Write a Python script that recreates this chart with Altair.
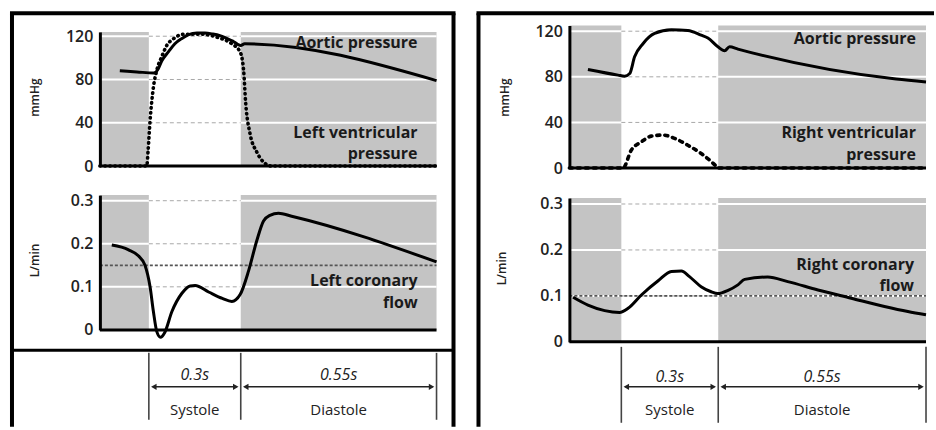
import altair as alt
import pandas as pd

# ---------------- data ----------------
PHASE_EDGES = [-0.14, 0.0, 0.30, 0.85]      # end of previous diastole | systole | diastole
SHADE_START = [-0.14, 0.30]
SHADE_END = [0.0, 0.85]
PHASE_START = [0.0, 0.30]
PHASE_END = [0.30, 0.85]
PHASE_DURATION = ["0.3s", "0.55s"]
PHASE_NAME = ["Systole", "Diastole"]
PHASE_MARKS = [0.0, 0.30, 0.85]

PRESSURE_TICKS = [0, 40, 80, 120]
FLOW_TICKS = [0, 0.1, 0.2, 0.3]

# left heart: aortic pressure (mmHg)
LA_T = [-0.083, -0.034, 0.016, 0.029, 0.042, 0.065, 0.085, 0.108, 0.130, 0.157,
        0.183, 0.209, 0.232, 0.254, 0.274, 0.290, 0.300, 0.311, 0.85]
LA_P = [88, 87, 86, 89, 97, 106, 113, 118, 121.5, 123,
        123, 122, 120.5, 118, 115.5, 112.5, 111.5, 113, 79]
# left ventricular pressure (mmHg)
LV_T = [-0.14, -0.006, -0.002, 0.004, 0.015, 0.026, 0.042, 0.059, 0.081, 0.113, 0.173,
        0.227, 0.271, 0.298, 0.308, 0.314, 0.326, 0.345, 0.368, 0.387, 0.85]
LV_P = [0, 0, 15, 42, 73, 88.6, 101, 111.7, 117.8, 121.8, 121.8,
        118.7, 113, 105.5, 88.6, 57.8, 30, 13, 2.5, 0, 0]
# left coronary flow (L/min)
LF_T = [-0.106, -0.058, -0.030, -0.011, 0.004, 0.015, 0.026, 0.038, 0.052, 0.075, 0.108,
        0.135, 0.151, 0.195, 0.240, 0.271, 0.298, 0.322, 0.345, 0.364, 0.382, 0.406, 0.443, 0.85]
LF_F = [0.197, 0.186, 0.172, 0.150, 0.100, 0.042, -0.004, -0.017, -0.006, 0.042, 0.085,
        0.102, 0.103, 0.088, 0.073, 0.066, 0.082, 0.137, 0.207, 0.253, 0.266, 0.271, 0.264, 0.158]
LEFT_MEAN_FLOW = 0.15

# right heart: aortic pressure (mmHg)
RA_T = [-0.090, -0.009, 0.010, 0.026, 0.041, 0.067, 0.103, 0.155, 0.206, 0.247,
        0.268, 0.299, 0.317, 0.330, 0.352, 0.771, 0.85]
RA_P = [86.4, 81.5, 80.6, 82.9, 97.5, 109, 118, 121.2, 120.6, 116.5,
        114, 106.3, 102.8, 106.3, 104.3, 78.0, 75.5]
# right ventricular pressure (mmHg)
RV_T = [-0.14, 0.005, 0.031, 0.062, 0.093, 0.129, 0.165, 0.206, 0.247, 0.273, 0.294, 0.303, 0.85]
RV_P = [0, 0, 15.8, 23, 28, 28.9, 26, 20, 12.8, 7, 1.8, 0, 0]
# right coronary flow (L/min)
RF_T = [-0.130, -0.090, -0.045, -0.005, 0.021, 0.062, 0.114, 0.155, 0.186, 0.211, 0.247,
        0.278, 0.299, 0.326, 0.352, 0.370, 0.431, 0.484, 0.564, 0.652, 0.740, 0.802, 0.85]
RF_F = [0.097, 0.080, 0.068, 0.064, 0.073, 0.102, 0.133, 0.153, 0.154, 0.142, 0.120,
        0.109, 0.105, 0.112, 0.124, 0.136, 0.141, 0.131, 0.113, 0.095, 0.077, 0.066, 0.059]
RIGHT_MEAN_FLOW = 0.10

LEFT_LABELS = [["Aortic pressure"], ["Left ventricular", "pressure"], ["Left coronary", "flow"]]
RIGHT_LABELS = [["Aortic pressure"], ["Right ventricular", "pressure"], ["Right coronary", "flow"]]

# ---------------- layout / style ----------------
FONT = "Open Sans"
SHADE = "#c4c4c4"

LEFT_CFG = dict(
    width=442, height=414,
    x_range=[88, 137, 229, 425],
    p_top=124, p_range=[153, 18.7],
    f_top=0.313, f_range=[317, 182.1],
    aortic=(LA_T, LA_P), vent=(LV_T, LV_P), flow=(LF_T, LF_F), mean=LEFT_MEAN_FLOW,
    vent_dash=[0.5, 4.5], vent_width=3.6,
    labels=LEFT_LABELS,
    label_pos=[[(406, 29.5)], [(406, 119.5), (406, 140.5)], [(406, 268.5), (406, 290)]],
    p_title=(-65, 84), f_title=(-65, 247),
    divider=337.5, vlines=(340, 407), dur_y=362, arrow_y=374, name_y=397,
    right_border=True,
)
RIGHT_CFG = dict(
    width=456, height=414,
    x_range=[91, 143, 240, 448],
    p_top=125, p_range=[155, 12.3],
    f_top=0.313, f_range=[329, 185],
    aortic=(RA_T, RA_P), vent=(RV_T, RV_P), flow=(RF_T, RF_F), mean=RIGHT_MEAN_FLOW,
    vent_dash=[3, 5], vent_width=3.6,
    labels=RIGHT_LABELS,
    label_pos=[[(438, 26)], [(438, 119.5), (438, 142)], [(436, 252), (436, 273)]],
    p_title=(-65, 84), f_title=(-68, 255),
    divider=None, vlines=(334, 410), dur_y=364, arrow_y=374, name_y=397,
    right_border=False,
)


def make_panel(cfg):
    xs = alt.Scale(domain=PHASE_EDGES, range=cfg["x_range"], nice=False, zero=False)

    def X(field):
        return alt.X(f"{field}:Q", scale=xs, axis=None)

    def Y(field, kind, axis=None):
        sc = alt.Scale(domain=[0, cfg[kind + "_top"]], range=cfg[kind + "_range"],
                       nice=False, zero=False)
        return alt.Y(f"{field}:Q", scale=sc, axis=axis)

    def yaxis(values, fmt, title, tpos):
        return alt.Axis(orient="left", offset=-cfg["x_range"][0], values=values, format=fmt,
                        title=title, titleX=tpos[0], titleY=tpos[1], titleAngle=270,
                        titleAlign="center", titleBaseline="middle", titleFont=FONT,
                        titleFontSize=12, titleFontWeight=600, titleColor="#222",
                        ticks=False, grid=False, domainColor="black", domainWidth=3,
                        labelFont=FONT, labelFontSize=16, labelFontWeight=600,
                        labelColor="#222", labelPadding=7, labelOverlap=False,
                        labelFlush=False, zindex=1)

    layers = []
    shade_df = pd.DataFrame({"start": SHADE_START, "end": SHADE_END})
    full_x0, full_x1 = PHASE_EDGES[0], PHASE_EDGES[-1]
    sys_x0, sys_x1 = PHASE_START[0], PHASE_END[0]

    for kind, ticks in (("p", PRESSURE_TICKS), ("f", FLOW_TICKS)):
        # shaded (diastolic) background
        layers.append(
            alt.Chart(shade_df).mark_rect(color=SHADE)
            .transform_calculate(lo="0", hi=str(cfg[kind + "_top"]))
            .encode(x=X("start"), x2="end", y=Y("lo", kind), y2="hi:Q")
        )
        grid_df = pd.DataFrame({"v": ticks[1:]})
        # white grid lines across the shaded regions
        layers.append(
            alt.Chart(grid_df).mark_rule(color="white", strokeWidth=2)
            .transform_calculate(x0=str(full_x0), x1=str(full_x1))
            .encode(x=X("x0"), x2="x1:Q", y=Y("v", kind))
        )
        # dashed grey grid lines in the systolic (white) region
        layers.append(
            alt.Chart(grid_df).mark_rule(color="#a8a8a8", strokeWidth=1, strokeDash=[4, 3])
            .transform_calculate(x0=str(sys_x0), x1=str(sys_x1))
            .encode(x=X("x0"), x2="x1:Q", y=Y("v", kind))
        )

    # mean coronary flow
    layers.append(
        alt.Chart(pd.DataFrame({"v": [cfg["mean"]]}))
        .mark_rule(color="#555", strokeWidth=1.8, strokeDash=[3, 2])
        .transform_calculate(x0=str(full_x0), x1=str(full_x1))
        .encode(x=X("x0"), x2="x1:Q", y=Y("v", "f"))
    )
    # zero baselines
    for kind in ("p", "f"):
        layers.append(
            alt.Chart(pd.DataFrame({"v": [0]}))
            .mark_rule(color="black", strokeWidth=3)
            .transform_calculate(x0=str(full_x0), x1=str(full_x1))
            .encode(x=X("x0"), x2="x1:Q", y=Y("v", kind))
        )

    at, ap = cfg["aortic"]
    vt, vp = cfg["vent"]
    ft, ff = cfg["flow"]
    layers.append(
        alt.Chart(pd.DataFrame({"t": vt, "v": vp}))
        .mark_line(color="black", strokeWidth=cfg["vent_width"], strokeDash=cfg["vent_dash"],
                   strokeCap="round", interpolate="monotone")
        .encode(x=X("t"), y=Y("v", "p"), order="t:Q")
    )
    layers.append(
        alt.Chart(pd.DataFrame({"t": at, "v": ap}))
        .mark_line(color="black", strokeWidth=3, interpolate="monotone")
        .encode(x=X("t"), y=Y("v", "p", yaxis(PRESSURE_TICKS, "d", "mmHg", cfg["p_title"])),
                order="t:Q")
    )
    layers.append(
        alt.Chart(pd.DataFrame({"t": ft, "v": ff}))
        .mark_line(color="black", strokeWidth=3, interpolate="monotone")
        .encode(x=X("t"), y=Y("v", "f", yaxis(FLOW_TICKS, "~g", "L/min", cfg["f_title"])),
                order="t:Q")
    )

    # curve labels
    for lines, poss in zip(cfg["labels"], cfg["label_pos"]):
        for line, (lx, ly) in zip(lines, poss):
            layers.append(
                alt.Chart(pd.DataFrame({"label": [line]}))
                .mark_text(font=FONT, fontSize=16, fontWeight=700, color="#1a1a1a",
                           align="right", baseline="middle")
                .encode(text="label:N", x=alt.value(lx), y=alt.value(ly))
            )

    # timing section
    vy0, vy1 = cfg["vlines"]
    layers.append(
        alt.Chart(pd.DataFrame({"t": PHASE_MARKS}))
        .mark_rule(color="#444", strokeWidth=1.6)
        .encode(x=X("t"), y=alt.value(vy0), y2=alt.value(vy1))
    )
    phase_df = pd.DataFrame({"start": PHASE_START, "end": PHASE_END,
                             "dur": PHASE_DURATION, "name": PHASE_NAME})
    layers.append(
        alt.Chart(phase_df).mark_rule(color="#222", strokeWidth=1.5, xOffset=4, x2Offset=-4)
        .encode(x=X("start"), x2="end:Q", y=alt.value(cfg["arrow_y"]))
    )
    layers.append(
        alt.Chart(phase_df).mark_point(shape="triangle-left", filled=True, size=40,
                                       color="#222", opacity=1, xOffset=5)
        .encode(x=X("start"), y=alt.value(cfg["arrow_y"]))
    )
    layers.append(
        alt.Chart(phase_df).mark_point(shape="triangle-right", filled=True, size=40,
                                       color="#222", opacity=1, xOffset=-5)
        .encode(x=X("end"), y=alt.value(cfg["arrow_y"]))
    )
    layers.append(
        alt.Chart(phase_df).mark_text(font=FONT, fontSize=16, fontStyle="italic",
                                      fontWeight=500, color="#222", baseline="middle")
        .transform_calculate(mid="(datum.start + datum.end) / 2")
        .encode(x=X("mid"), y=alt.value(cfg["dur_y"]), text="dur:N")
    )
    layers.append(
        alt.Chart(phase_df).mark_text(font=FONT, fontSize=15, fontWeight=500,
                                      color="#222", baseline="middle")
        .transform_calculate(mid="(datum.start + datum.end) / 2")
        .encode(x=X("mid"), y=alt.value(cfg["name_y"]), text="name:N")
    )

    one = pd.DataFrame({"k": [0]})
    W, H = cfg["width"], cfg["height"]
    if cfg["divider"] is not None:
        layers.append(
            alt.Chart(one).mark_rule(color="black", strokeWidth=3)
            .encode(x=alt.value(0), x2=alt.value(W), y=alt.value(cfg["divider"]))
        )
    # frame
    layers.append(
        alt.Chart(one).mark_rule(color="black", strokeWidth=4)
        .encode(x=alt.value(-2), x2=alt.value(W + (2 if cfg["right_border"] else 0)), y=alt.value(0))
    )
    layers.append(
        alt.Chart(one).mark_rule(color="black", strokeWidth=4)
        .encode(x=alt.value(0), y=alt.value(0), y2=alt.value(H))
    )
    if cfg["right_border"]:
        layers.append(
            alt.Chart(one).mark_rule(color="black", strokeWidth=4)
            .encode(x=alt.value(W), y=alt.value(0), y2=alt.value(H))
        )

    return alt.layer(*layers).resolve_scale(y="independent").properties(width=W, height=H)


chart = (
    alt.hconcat(make_panel(LEFT_CFG), make_panel(RIGHT_CFG), spacing=25, bounds="flush")
    .properties(padding={"left": 8, "top": 11, "right": 0, "bottom": 0}, background="white")
    .configure_view(stroke=None)
)

chart.save("out.html", embed_options={"renderer": "svg", "actions": False})
